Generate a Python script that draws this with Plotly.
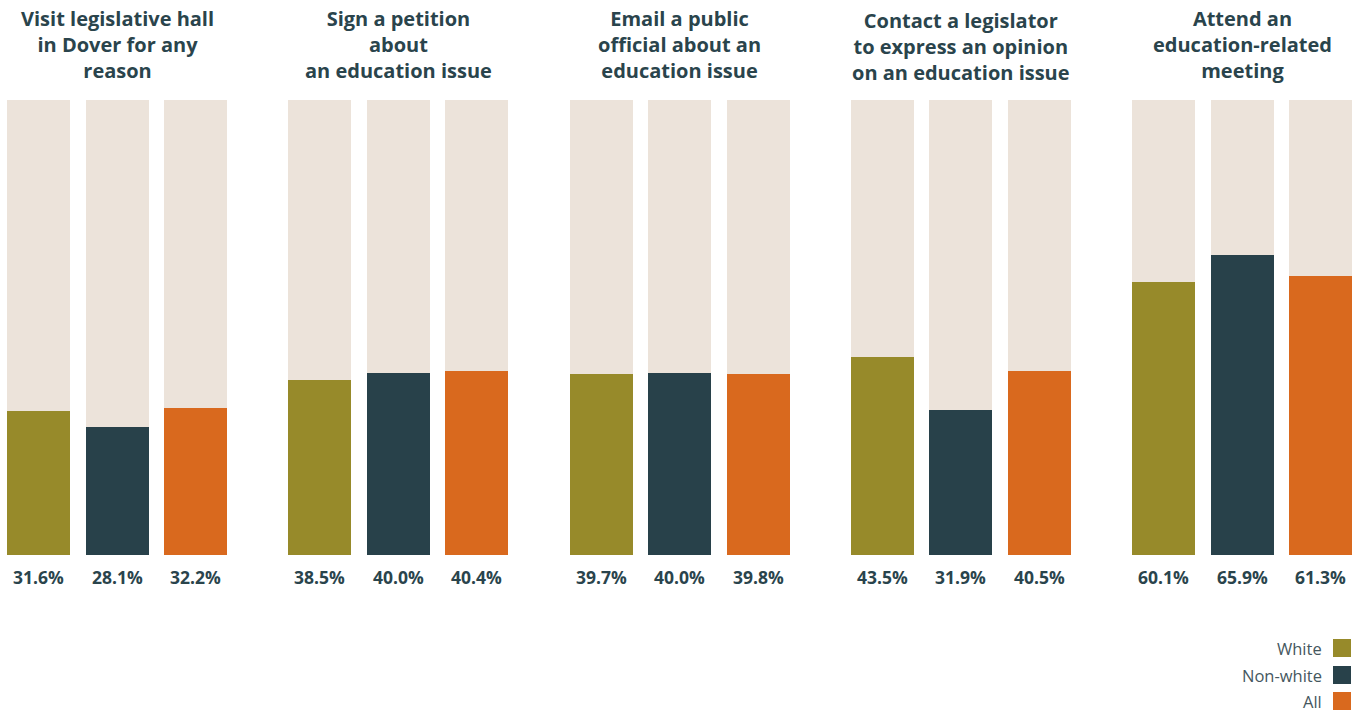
import plotly.graph_objects as go

titles = [
    "Visit legislative hall<br>in Dover for any<br>reason",
    "Sign a petition<br>about<br>an education issue",
    "Email a public<br>official about an<br>education issue",
    "Contact a legislator<br>to express an opinion<br>on an education issue",
    "Attend an<br>education-related<br>meeting",
]
series_names = ["White", "Non-white", "All"]
white = [31.6, 38.5, 39.7, 43.5, 60.1]
nonwhite = [28.1, 40.0, 40.0, 31.9, 65.9]
all_ = [32.2, 40.4, 39.8, 40.5, 61.3]
colors = ["#978a2a", "#28414a", "#d9691e"]
bg_color = "#ece3da"
text_color = "#2a444c"

series = [white, nonwhite, all_]
W, H = 1356, 713
group_start, group_step, bar_step, bar_w = 38.5, 281.25, 78.5, 63

fig = go.Figure()
for k, (name, vals, c) in enumerate(zip(series_names, series, colors)):
    xs = [group_start + g * group_step + k * bar_step for g in range(len(vals))]
    fig.add_trace(go.Bar(x=xs, y=[100] * len(vals), width=bar_w, marker=dict(color=bg_color, line_width=0),
                         showlegend=False, hoverinfo="skip"))
    fig.add_trace(go.Bar(x=xs, y=vals, width=bar_w, marker=dict(color=c, line_width=0), name=name,
                         showlegend=False))
    for x, v in zip(xs, vals):
        fig.add_annotation(x=x, y=0, yref="y", xref="x", text=f"{v:.1f}%", showarrow=False,
                           yanchor="middle", yshift=-22,
                           font=dict(family="Open Sans", size=17.5, color=text_color, weight="bold"))

for g, t in enumerate(titles):
    cx = group_start + g * group_step + bar_step
    top = 4 + (2 if g == 3 else 0)
    fig.add_annotation(x=cx, xref="x", y=1 - top / H, yref="paper", yanchor="top", text=t,
                       showarrow=False, align="center", borderpad=0,
                       font=dict(family="Open Sans", size=20, color=text_color, weight="bold"))

# legend (text left of swatch)
leg_y = [648, 675, 701]
for name, c, yc in zip(series_names, colors, leg_y):
    fig.add_shape(type="rect", xref="paper", yref="paper",
                  x0=1333 / W, x1=1351 / W, y0=1 - (yc + 9) / H, y1=1 - (yc - 9) / H,
                  fillcolor=c, line_width=0)
    fig.add_annotation(xref="paper", yref="paper", x=1324 / W, y=1 - yc / H, xanchor="right",
                       yanchor="middle", text=name, showarrow=False,
                       font=dict(family="Open Sans", size=16.5, color="#45575e"))

fig.update_layout(
    width=W, height=H, barmode="overlay", bargap=0,
    plot_bgcolor="white", paper_bgcolor="white",
    margin=dict(l=0, r=0, t=0, b=0),
    xaxis=dict(range=[0, W], visible=False, fixedrange=True),
    yaxis=dict(range=[0, 100], domain=[158 / H, 613 / H], visible=False, fixedrange=True),
)
fig.write_html("out.html")
